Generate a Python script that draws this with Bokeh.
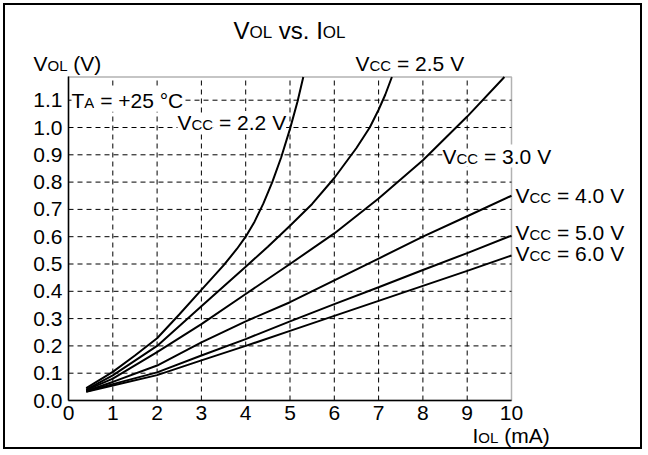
from bokeh.plotting import figure
from bokeh.models import Label, FixedTicker, PrintfTickFormatter, Range1d, LinearAxis, BoxAnnotation
from bokeh.embed import file_html
from bokeh.resources import INLINE

# ---- data ----
iol_22 = [0.4, 1, 1.5, 2, 2.5, 3, 3.5, 3.8, 4.0, 4.2, 4.4, 4.6, 4.8, 5.0, 5.17, 5.3]
vol_22 = [0.045, 0.105, 0.165, 0.228, 0.315, 0.405, 0.495, 0.555, 0.6, 0.655, 0.722, 0.8, 0.89, 0.995, 1.095, 1.185]
iol_25 = [0.4, 1, 2, 3, 4, 4.5, 5, 5.5, 6, 6.5, 6.8, 7.0, 7.15, 7.3]
vol_25 = [0.04, 0.092, 0.2, 0.345, 0.49, 0.563, 0.64, 0.72, 0.815, 0.925, 1.0, 1.065, 1.12, 1.185]
iol_30 = [0.4, 1, 2, 3, 4, 5, 6, 7, 8, 9, 9.84]
vol_30 = [0.038, 0.08, 0.177, 0.28, 0.39, 0.5, 0.612, 0.74, 0.88, 1.04, 1.185]
iol_lin = [0.4, 1, 2, 3, 4, 5, 6, 7, 8, 9, 10]
vol_40 = [0.035, 0.068, 0.128, 0.213, 0.29, 0.36, 0.44, 0.52, 0.6, 0.675, 0.75]
vol_50 = [0.033, 0.06, 0.103, 0.165, 0.225, 0.29, 0.353, 0.415, 0.478, 0.54, 0.604]
vol_60 = [0.032, 0.055, 0.093, 0.147, 0.2, 0.255, 0.31, 0.365, 0.42, 0.475, 0.531]

x_ticks = [0, 1, 2, 3, 4, 5, 6, 7, 8, 9, 10]
y_ticks = [0.0, 0.1, 0.2, 0.3, 0.4, 0.5, 0.6, 0.7, 0.8, 0.9, 1.0, 1.1]
X_MAX = 10
Y_MAX = 1.185

FONT = "Liberation Sans"
BIG = 21
SMALL = 15
T_BIG = 24
T_SMALL = 17
NB = "\u00a0"

# ---- layout (page pixels) ----
CANVAS_X0, CANVAS_Y0 = 5, 5          # canvas origin on the page (inside 2px border)
W_CANVAS, H_CANVAS = 639, 446
BOX_LEFT, BOX_RIGHT, BOX_BOTTOM = 68, 511, 400
PX_X = (BOX_RIGHT - BOX_LEFT) / X_MAX
PX_Y = 273.0


def dx(px):
    return (px - BOX_LEFT) / PX_X


def dy(py):
    return (BOX_BOTTOM - py) / PX_Y


p = figure(width=W_CANVAS, height=H_CANVAS, output_backend="svg", toolbar_location=None,
           x_range=Range1d(dx(CANVAS_X0), dx(CANVAS_X0 + W_CANVAS)),
           y_range=Range1d(dy(CANVAS_Y0 + H_CANVAS), dy(CANVAS_Y0)),
           x_axis_location=None, y_axis_location=None,
           min_border_left=0, min_border_right=0, min_border_top=0, min_border_bottom=0)
p.styles = {"margin-left": "3px", "margin-top": "3px", "border": "2px solid black"}
p.background_fill_color = "white"
p.border_fill_color = "white"
p.outline_line_color = None
p.center = []

# dashed grid inside the plot box, from the tick lists
p.segment(x0=x_ticks[1:-1], y0=[0] * (len(x_ticks) - 2), x1=x_ticks[1:-1], y1=[Y_MAX] * (len(x_ticks) - 2),
          line_color="black", line_width=1, line_dash="5 4")
p.segment(x0=[0] * (len(y_ticks) - 1), y0=y_ticks[1:], x1=[X_MAX] * (len(y_ticks) - 1), y1=y_ticks[1:],
          line_color="black", line_width=1, line_dash="5 4")

xaxis = LinearAxis(fixed_location=0, bounds=(0, X_MAX), ticker=FixedTicker(ticks=x_ticks))
yaxis = LinearAxis(fixed_location=0, bounds=(0, Y_MAX), ticker=FixedTicker(ticks=y_ticks),
                   formatter=PrintfTickFormatter(format="%.1f"))
for ax in (xaxis, yaxis):
    ax.axis_line_color = "black"
    ax.axis_line_width = 1.5
    ax.major_tick_in = 0
    ax.major_tick_out = 0
    ax.minor_tick_in = 0
    ax.minor_tick_out = 0
    ax.major_label_text_font = FONT
    ax.major_label_text_font_size = f"{BIG}px"
    ax.major_label_text_color = "black"
xaxis.major_label_standoff = 5
yaxis.major_label_standoff = 6
p.add_layout(xaxis, "below")
p.add_layout(yaxis, "left")

p.add_layout(BoxAnnotation(left=0, right=X_MAX, bottom=0, top=Y_MAX, fill_color=None,
                           fill_alpha=0, line_color="black", line_width=1.5))

for xs, ys in [(iol_22, vol_22), (iol_25, vol_25), (iol_30, vol_30),
               (iol_lin, vol_40), (iol_lin, vol_50), (iol_lin, vol_60)]:
    p.line(xs, ys, line_color="black", line_width=2)

# Arial-compatible advance widths (per 1000 em)
W = {' ': 278, NB: 278, '(': 333, ')': 333, '+': 584, '.': 278, '=': 584, 'A': 667,
     'C': 722, 'I': 278, 'L': 556, 'O': 778, 'S': 667, 'T': 611, 'V': 667, 'a': 556,
     'm': 833, 's': 500, 'v': 500, '\u00b0': 400}
for d in "0123456789":
    W[d] = 556


def rich(parts, x, y, off=0.0, bg=False):
    """Place a run of text pieces side by side; y is the vertical centre of the large text."""
    big = max(s for _, s in parts)
    for t, s in parts:
        lab = Label(x=x, y=y, x_offset=off, y_offset=-0.35 * (big - s), text=t,
                    text_font=FONT, text_font_size=f"{s}px", text_color="black",
                    text_baseline="middle", text_align="left")
        if bg:
            lab.background_fill_color = "white"
        p.add_layout(lab)
        off += sum(W.get(c, 556) for c in t) * s / 1000


def vcc(v):
    return [("V", BIG), ("CC", SMALL), (f"{NB}={NB}{v}{NB}V", BIG)]


rich([("V", T_BIG), ("OL", T_SMALL), (f"{NB}vs.{NB}I", T_BIG), ("OL", T_SMALL)], dx(233), dy(30))
rich([("V", BIG), ("OL", SMALL), (f"{NB}(V)", BIG)], dx(33), dy(63))
rich(vcc("2.5"), dx(355), dy(63))
rich([("T", BIG), ("A", SMALL), (f"{NB}={NB}+25{NB}\u00b0C", BIG)], dx(71), y_ticks[-1], bg=True)
rich(vcc("2.2"), dx(177), dy(122), bg=True)
rich(vcc("3.0"), dx(442), dy(155.5), bg=True)
rich(vcc("4.0"), X_MAX, vol_40[-1], off=4)
rich(vcc("5.0"), X_MAX, vol_50[-1] + 0.01, off=4)
rich(vcc("6.0"), X_MAX, vol_60[-1] + 0.008, off=4)
rich([("I", BIG), ("OL", SMALL), (f"{NB}(mA)", BIG)], dx(472), dy(435))

open("out.html", "w").write(file_html(p, INLINE))
